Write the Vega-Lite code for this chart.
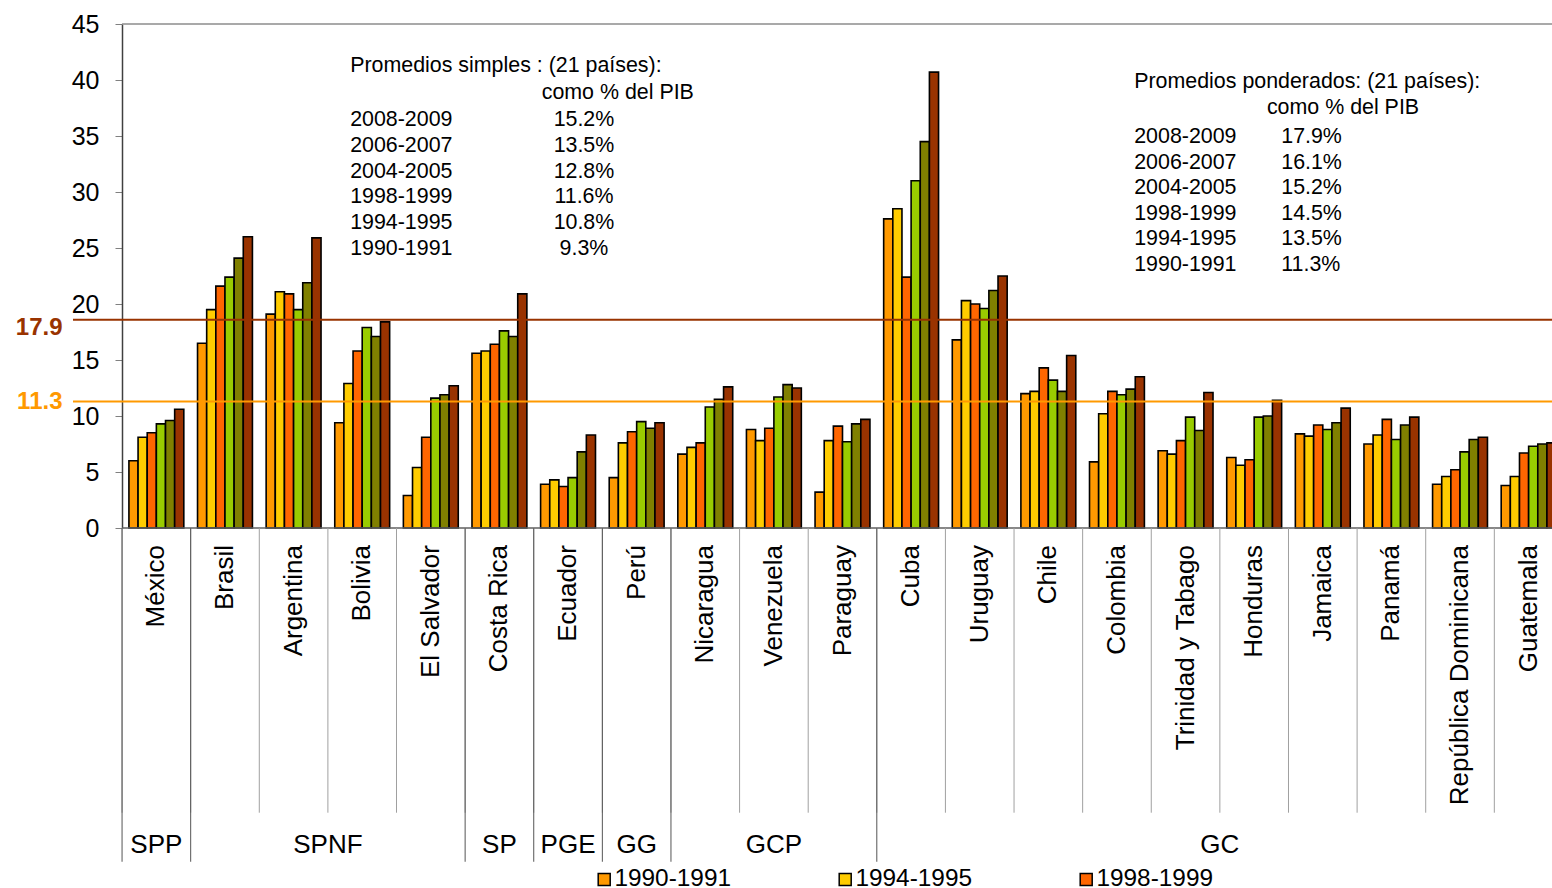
{
  "$schema": "https://vega.github.io/schema/vega-lite/v6.json",
  "width": 1479,
  "height": 504,
  "autosize": {"type": "none"},
  "padding": {"left": 73, "top": 24, "right": 0, "bottom": 360},
  "background": "white",
  "config": {"font": "Liberation Sans", "view": {"stroke": null}, "axis": {"grid": false}},
  "datasets": {
    "bars": [
      {"country": "México", "period": "1990-1991", "value": 6.0},
      {"country": "México", "period": "1994-1995", "value": 8.1},
      {"country": "México", "period": "1998-1999", "value": 8.5},
      {"country": "México", "period": "2004-2005", "value": 9.3},
      {"country": "México", "period": "2006-2007", "value": 9.6},
      {"country": "México", "period": "2008-2009", "value": 10.6},
      {"country": "Brasil", "period": "1990-1991", "value": 16.5},
      {"country": "Brasil", "period": "1994-1995", "value": 19.5},
      {"country": "Brasil", "period": "1998-1999", "value": 21.6},
      {"country": "Brasil", "period": "2004-2005", "value": 22.4},
      {"country": "Brasil", "period": "2006-2007", "value": 24.1},
      {"country": "Brasil", "period": "2008-2009", "value": 26.0},
      {"country": "Argentina", "period": "1990-1991", "value": 19.1},
      {"country": "Argentina", "period": "1994-1995", "value": 21.1},
      {"country": "Argentina", "period": "1998-1999", "value": 20.9},
      {"country": "Argentina", "period": "2004-2005", "value": 19.5},
      {"country": "Argentina", "period": "2006-2007", "value": 21.9},
      {"country": "Argentina", "period": "2008-2009", "value": 25.9},
      {"country": "Bolivia", "period": "1990-1991", "value": 9.4},
      {"country": "Bolivia", "period": "1994-1995", "value": 12.9},
      {"country": "Bolivia", "period": "1998-1999", "value": 15.8},
      {"country": "Bolivia", "period": "2004-2005", "value": 17.9},
      {"country": "Bolivia", "period": "2006-2007", "value": 17.1},
      {"country": "Bolivia", "period": "2008-2009", "value": 18.4},
      {"country": "El Salvador", "period": "1990-1991", "value": 2.9},
      {"country": "El Salvador", "period": "1994-1995", "value": 5.4},
      {"country": "El Salvador", "period": "1998-1999", "value": 8.1},
      {"country": "El Salvador", "period": "2004-2005", "value": 11.6},
      {"country": "El Salvador", "period": "2006-2007", "value": 11.9},
      {"country": "El Salvador", "period": "2008-2009", "value": 12.7},
      {"country": "Costa Rica", "period": "1990-1991", "value": 15.6},
      {"country": "Costa Rica", "period": "1994-1995", "value": 15.8},
      {"country": "Costa Rica", "period": "1998-1999", "value": 16.4},
      {"country": "Costa Rica", "period": "2004-2005", "value": 17.6},
      {"country": "Costa Rica", "period": "2006-2007", "value": 17.1},
      {"country": "Costa Rica", "period": "2008-2009", "value": 20.9},
      {"country": "Ecuador", "period": "1990-1991", "value": 3.9},
      {"country": "Ecuador", "period": "1994-1995", "value": 4.3},
      {"country": "Ecuador", "period": "1998-1999", "value": 3.7},
      {"country": "Ecuador", "period": "2004-2005", "value": 4.5},
      {"country": "Ecuador", "period": "2006-2007", "value": 6.8},
      {"country": "Ecuador", "period": "2008-2009", "value": 8.3},
      {"country": "Perú", "period": "1990-1991", "value": 4.5},
      {"country": "Perú", "period": "1994-1995", "value": 7.6},
      {"country": "Perú", "period": "1998-1999", "value": 8.6},
      {"country": "Perú", "period": "2004-2005", "value": 9.5},
      {"country": "Perú", "period": "2006-2007", "value": 8.9},
      {"country": "Perú", "period": "2008-2009", "value": 9.4},
      {"country": "Nicaragua", "period": "1990-1991", "value": 6.6},
      {"country": "Nicaragua", "period": "1994-1995", "value": 7.2},
      {"country": "Nicaragua", "period": "1998-1999", "value": 7.6},
      {"country": "Nicaragua", "period": "2004-2005", "value": 10.8},
      {"country": "Nicaragua", "period": "2006-2007", "value": 11.5},
      {"country": "Nicaragua", "period": "2008-2009", "value": 12.6},
      {"country": "Venezuela", "period": "1990-1991", "value": 8.8},
      {"country": "Venezuela", "period": "1994-1995", "value": 7.8},
      {"country": "Venezuela", "period": "1998-1999", "value": 8.9},
      {"country": "Venezuela", "period": "2004-2005", "value": 11.7},
      {"country": "Venezuela", "period": "2006-2007", "value": 12.8},
      {"country": "Venezuela", "period": "2008-2009", "value": 12.5},
      {"country": "Paraguay", "period": "1990-1991", "value": 3.2},
      {"country": "Paraguay", "period": "1994-1995", "value": 7.8},
      {"country": "Paraguay", "period": "1998-1999", "value": 9.1},
      {"country": "Paraguay", "period": "2004-2005", "value": 7.7},
      {"country": "Paraguay", "period": "2006-2007", "value": 9.3},
      {"country": "Paraguay", "period": "2008-2009", "value": 9.7},
      {"country": "Cuba", "period": "1990-1991", "value": 27.6},
      {"country": "Cuba", "period": "1994-1995", "value": 28.5},
      {"country": "Cuba", "period": "1998-1999", "value": 22.4},
      {"country": "Cuba", "period": "2004-2005", "value": 31.0},
      {"country": "Cuba", "period": "2006-2007", "value": 34.5},
      {"country": "Cuba", "period": "2008-2009", "value": 40.7},
      {"country": "Uruguay", "period": "1990-1991", "value": 16.8},
      {"country": "Uruguay", "period": "1994-1995", "value": 20.3},
      {"country": "Uruguay", "period": "1998-1999", "value": 20.0},
      {"country": "Uruguay", "period": "2004-2005", "value": 19.6},
      {"country": "Uruguay", "period": "2006-2007", "value": 21.2},
      {"country": "Uruguay", "period": "2008-2009", "value": 22.5},
      {"country": "Chile", "period": "1990-1991", "value": 12.0},
      {"country": "Chile", "period": "1994-1995", "value": 12.2},
      {"country": "Chile", "period": "1998-1999", "value": 14.3},
      {"country": "Chile", "period": "2004-2005", "value": 13.2},
      {"country": "Chile", "period": "2006-2007", "value": 12.2},
      {"country": "Chile", "period": "2008-2009", "value": 15.4},
      {"country": "Colombia", "period": "1990-1991", "value": 5.9},
      {"country": "Colombia", "period": "1994-1995", "value": 10.2},
      {"country": "Colombia", "period": "1998-1999", "value": 12.2},
      {"country": "Colombia", "period": "2004-2005", "value": 11.9},
      {"country": "Colombia", "period": "2006-2007", "value": 12.4},
      {"country": "Colombia", "period": "2008-2009", "value": 13.5},
      {"country": "Trinidad y Tabago", "period": "1990-1991", "value": 6.9},
      {"country": "Trinidad y Tabago", "period": "1994-1995", "value": 6.6},
      {"country": "Trinidad y Tabago", "period": "1998-1999", "value": 7.8},
      {"country": "Trinidad y Tabago", "period": "2004-2005", "value": 9.9},
      {"country": "Trinidad y Tabago", "period": "2006-2007", "value": 8.7},
      {"country": "Trinidad y Tabago", "period": "2008-2009", "value": 12.1},
      {"country": "Honduras", "period": "1990-1991", "value": 6.3},
      {"country": "Honduras", "period": "1994-1995", "value": 5.6},
      {"country": "Honduras", "period": "1998-1999", "value": 6.1},
      {"country": "Honduras", "period": "2004-2005", "value": 9.9},
      {"country": "Honduras", "period": "2006-2007", "value": 10.0},
      {"country": "Honduras", "period": "2008-2009", "value": 11.4},
      {"country": "Jamaica", "period": "1990-1991", "value": 8.4},
      {"country": "Jamaica", "period": "1994-1995", "value": 8.2},
      {"country": "Jamaica", "period": "1998-1999", "value": 9.2},
      {"country": "Jamaica", "period": "2004-2005", "value": 8.8},
      {"country": "Jamaica", "period": "2006-2007", "value": 9.4},
      {"country": "Jamaica", "period": "2008-2009", "value": 10.7},
      {"country": "Panamá", "period": "1990-1991", "value": 7.5},
      {"country": "Panamá", "period": "1994-1995", "value": 8.3},
      {"country": "Panamá", "period": "1998-1999", "value": 9.7},
      {"country": "Panamá", "period": "2004-2005", "value": 7.9},
      {"country": "Panamá", "period": "2006-2007", "value": 9.2},
      {"country": "Panamá", "period": "2008-2009", "value": 9.9},
      {"country": "República Dominicana", "period": "1990-1991", "value": 3.9},
      {"country": "República Dominicana", "period": "1994-1995", "value": 4.6},
      {"country": "República Dominicana", "period": "1998-1999", "value": 5.2},
      {"country": "República Dominicana", "period": "2004-2005", "value": 6.8},
      {"country": "República Dominicana", "period": "2006-2007", "value": 7.9},
      {"country": "República Dominicana", "period": "2008-2009", "value": 8.1},
      {"country": "Guatemala", "period": "1990-1991", "value": 3.8},
      {"country": "Guatemala", "period": "1994-1995", "value": 4.6},
      {"country": "Guatemala", "period": "1998-1999", "value": 6.7},
      {"country": "Guatemala", "period": "2004-2005", "value": 7.3},
      {"country": "Guatemala", "period": "2006-2007", "value": 7.5},
      {"country": "Guatemala", "period": "2008-2009", "value": 7.6}
    ],
    "groups": [
      {"group": "SPP", "first": "México", "labelAt": "México", "edge": false},
      {"group": "SPNF", "first": "Brasil", "labelAt": "Bolivia", "edge": true},
      {"group": "SP", "first": "Costa Rica", "labelAt": "Costa Rica", "edge": false},
      {"group": "PGE", "first": "Ecuador", "labelAt": "Ecuador", "edge": false},
      {"group": "GG", "first": "Perú", "labelAt": "Perú", "edge": false},
      {"group": "GCP", "first": "Nicaragua", "labelAt": "Venezuela", "edge": false},
      {"group": "GC", "first": "Cuba", "labelAt": "Honduras", "edge": true}
    ],
    "one": [{}]
  },
  "resolve": {"axis": {"y": "independent"}, "scale": {"y": "shared"}},
  "layer": [
    {
      "data": {"name": "bars"},
      "mark": {"type": "bar", "stroke": "black", "strokeWidth": 1.6},
      "encoding": {
        "x": {
          "field": "country", "type": "nominal",
          "scale": {
            "domain": ["México", "Brasil", "Argentina", "Bolivia", "El Salvador", "Costa Rica", "Ecuador", "Perú", "Nicaragua", "Venezuela", "Paraguay", "Cuba", "Uruguay", "Chile", "Colombia", "Trinidad y Tabago", "Honduras", "Jamaica", "Panamá", "República Dominicana", "Guatemala"],
            "range": [0, 1539], "paddingInner": 0.2, "paddingOuter": 0.815
          },
          "axis": null
        },
        "xOffset": {"field": "period", "type": "nominal", "scale": {"domain": ["1990-1991", "1994-1995", "1998-1999", "2004-2005", "2006-2007", "2008-2009"], "paddingInner": 0, "paddingOuter": 0}},
        "y": {
          "field": "value", "type": "quantitative",
          "scale": {"domain": [0, 45], "nice": false},
          "axis": {"orient": "left", "title": null, "values": [0, 5, 10, 15, 20, 25, 30, 35, 40, 45], "offset": -49, "tickSize": 7, "tickColor": "#808080", "domainColor": "#404040", "domainWidth": 1.5, "labelFontSize": 25, "labelPadding": 16, "labelColor": "black", "grid": false}
        },
        "color": {
          "field": "period", "type": "nominal",
          "scale": {"domain": ["1990-1991", "1994-1995", "1998-1999", "2004-2005", "2006-2007", "2008-2009"], "range": ["#FF9900", "#FFCC00", "#FF6600", "#99CC00", "#808000", "#993300"]},
          "legend": {"title": null, "orient": "none", "legendX": 519, "legendY": 843, "direction": "horizontal", "columns": 3, "columnPadding": 101, "rowPadding": 6, "symbolType": "square", "symbolSize": 144, "symbolStrokeColor": "black", "symbolStrokeWidth": 1.5, "labelFontSize": 24.4, "labelOffset": -2, "labelColor": "black", "labelLimit": 300, "padding": 0}
        }
      }
    },
    {
      "data": {"name": "bars"},
      "transform": [{"filter": "datum.period === '1990-1991'"}],
      "mark": {"type": "text", "angle": 270, "align": "right", "baseline": "middle", "fontSize": 26, "color": "black"},
      "encoding": {
        "x": {"field": "country", "type": "nominal", "axis": null},
        "y": {"datum": -1.52, "type": "quantitative", "axis": null},
        "text": {"field": "country"}
      }
    },
    {
      "data": {"name": "one"},
      "mark": {"type": "rule", "color": "#993300", "strokeWidth": 2},
      "encoding": {"y": {"datum": 18.6, "type": "quantitative", "axis": null}}
    },
    {
      "data": {"name": "one"},
      "mark": {"type": "rule", "color": "#FF9900", "strokeWidth": 2},
      "encoding": {
        "y": {"datum": 11.3, "type": "quantitative",
          "axis": {"orient": "left", "title": null, "values": [17.9, 11.3], "format": ".1f", "ticks": false, "domain": false, "labelFontSize": 24, "labelFontWeight": "bold", "labelPadding": 11, "labelColor": {"condition": {"test": "datum.value > 15", "value": "#993300"}, "value": "#FF9900"}, "grid": false}}
      }
    },
    {
      "data": {"name": "one"},
      "mark": {"type": "rule", "color": "#8c8c8c", "strokeWidth": 1.5},
      "encoding": {
        "x": {"datum": "México", "bandPosition": -0.125, "axis": null},
        "x2": {"datum": "Guatemala", "bandPosition": 1.125},
        "y": {"datum": 45, "type": "quantitative", "axis": null}
      }
    },
    {
      "data": {"name": "one"},
      "mark": {"type": "rule", "color": "#606060", "strokeWidth": 1.5},
      "encoding": {
        "x": {"datum": "México", "bandPosition": -0.125, "axis": null},
        "x2": {"datum": "Guatemala", "bandPosition": 1.125},
        "y": {"datum": 0, "type": "quantitative", "axis": null}
      }
    },
    {
      "data": {"name": "bars"},
      "transform": [{"filter": "datum.period === '1990-1991'"}],
      "mark": {"type": "rule", "color": "#a0a0a0", "strokeWidth": 1},
      "encoding": {
        "x": {"field": "country", "type": "nominal", "bandPosition": -0.125, "axis": null},
        "y": {"datum": 0, "type": "quantitative", "axis": null},
        "y2": {"datum": -25.42}
      }
    },
    {
      "data": {"name": "groups"},
      "mark": {"type": "rule", "color": "#555555", "strokeWidth": 1},
      "encoding": {
        "x": {"field": "first", "type": "nominal", "bandPosition": -0.125, "axis": null},
        "y": {"datum": 0, "type": "quantitative", "axis": null},
        "y2": {"datum": -29.8}
      }
    },
    {
      "data": {"name": "groups"},
      "transform": [{"filter": "!datum.edge"}],
      "mark": {"type": "text", "fontSize": 26, "baseline": "middle", "align": "center", "color": "black"},
      "encoding": {
        "x": {"field": "labelAt", "type": "nominal", "bandPosition": 0.5, "axis": null},
        "y": {"datum": -28.3, "type": "quantitative", "axis": null},
        "text": {"field": "group"}
      }
    },
    {
      "data": {"name": "groups"},
      "transform": [{"filter": "datum.edge"}],
      "mark": {"type": "text", "fontSize": 26, "baseline": "middle", "align": "center", "color": "black"},
      "encoding": {
        "x": {"field": "labelAt", "type": "nominal", "bandPosition": -0.125, "axis": null},
        "y": {"datum": -28.3, "type": "quantitative", "axis": null},
        "text": {"field": "group"}
      }
    },
    {
      "data": {"name": "one"},
      "mark": {"type": "text", "fontSize": 21.4, "align": "left", "baseline": "middle", "color": "black", "text": "Promedios simples : (21 países):"},
      "encoding": {
        "x": {"datum": "Bolivia", "bandPosition": 0.28, "axis": null},
        "y": {"datum": 41.25, "type": "quantitative", "axis": null}
      }
    },
    {
      "data": {"name": "one"},
      "mark": {"type": "text", "fontSize": 21.4, "align": "left", "baseline": "middle", "color": "black", "text": "como % del PIB"},
      "encoding": {
        "x": {"datum": "Ecuador", "bandPosition": 0.02, "axis": null},
        "y": {"datum": 38.81, "type": "quantitative", "axis": null}
      }
    },
    {
      "data": {"name": "one"},
      "mark": {"type": "text", "fontSize": 21.4, "align": "left", "baseline": "top", "lineHeight": 25.7, "color": "black", "text": ["2008-2009", "2006-2007", "2004-2005", "1998-1999", "1994-1995", "1990-1991"]},
      "encoding": {
        "x": {"datum": "Bolivia", "bandPosition": 0.28, "axis": null},
        "y": {"datum": 37.39, "type": "quantitative", "axis": null}
      }
    },
    {
      "data": {"name": "one"},
      "mark": {"type": "text", "fontSize": 21.4, "align": "center", "baseline": "top", "lineHeight": 25.7, "color": "black", "text": ["15.2%", "13.5%", "12.8%", "11.6%", "10.8%", "9.3%"]},
      "encoding": {
        "x": {"datum": "Ecuador", "bandPosition": 0.79, "axis": null},
        "y": {"datum": 37.39, "type": "quantitative", "axis": null}
      }
    },
    {
      "data": {"name": "one"},
      "mark": {"type": "text", "fontSize": 21.4, "align": "left", "baseline": "middle", "color": "black", "text": "Promedios ponderados: (21 países):"},
      "encoding": {
        "x": {"datum": "Colombia", "bandPosition": 0.814, "axis": null},
        "y": {"datum": 39.85, "type": "quantitative", "axis": null}
      }
    },
    {
      "data": {"name": "one"},
      "mark": {"type": "text", "fontSize": 21.4, "align": "left", "baseline": "middle", "color": "black", "text": "como % del PIB"},
      "encoding": {
        "x": {"datum": "Honduras", "bandPosition": 0.732, "axis": null},
        "y": {"datum": 37.47, "type": "quantitative", "axis": null}
      }
    },
    {
      "data": {"name": "one"},
      "mark": {"type": "text", "fontSize": 21.4, "align": "left", "baseline": "top", "lineHeight": 25.6, "color": "black", "text": ["2008-2009", "2006-2007", "2004-2005", "1998-1999", "1994-1995", "1990-1991"]},
      "encoding": {
        "x": {"datum": "Colombia", "bandPosition": 0.814, "axis": null},
        "y": {"datum": 35.9, "type": "quantitative", "axis": null}
      }
    },
    {
      "data": {"name": "one"},
      "mark": {"type": "text", "fontSize": 21.4, "align": "left", "baseline": "top", "lineHeight": 25.6, "color": "black", "text": ["17.9%", "16.1%", "15.2%", "14.5%", "13.5%", "11.3%"]},
      "encoding": {
        "x": {"datum": "Honduras", "bandPosition": 0.993, "axis": null},
        "y": {"datum": 35.9, "type": "quantitative", "axis": null}
      }
    }
  ]
}
